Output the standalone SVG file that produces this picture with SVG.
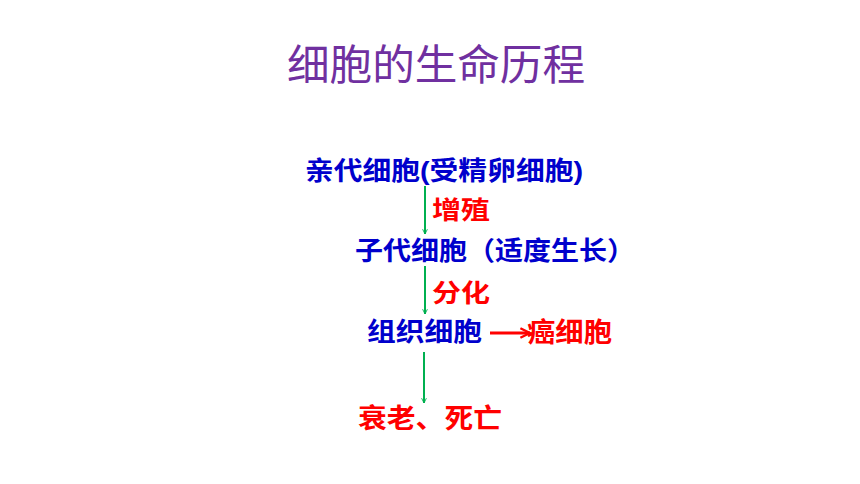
<svg xmlns="http://www.w3.org/2000/svg" width="860" height="484" viewBox="0 0 860 484">
<style>
text{font-family:"Liberation Sans","Noto Sans CJK SC",sans-serif;font-weight:bold}
.b{fill:#0000CC;font-size:26px}
.r{fill:#FF0000;font-size:25px}
.g{stroke:#00B050;stroke-width:2;fill:none}
</style>
<defs>
<marker id="ga" viewBox="0 0 10 10" refX="9" refY="5" markerWidth="6" markerHeight="6" orient="auto" markerUnits="userSpaceOnUse"><path d="M1,1 L9,5 L1,9" fill="none" stroke="#00B050" stroke-width="1.5"/></marker>
<marker id="ra" viewBox="0 0 10 10" refX="9" refY="5" markerWidth="12" markerHeight="12" orient="auto" markerUnits="userSpaceOnUse"><path d="M1,1 L9,5 L1,9" fill="none" stroke="#FF0000" stroke-width="2"/></marker>
</defs>
<text x="287" y="80" textLength="298" lengthAdjust="spacingAndGlyphs" style="font-size:42px;font-weight:normal;fill:#7030A0">细胞的生命历程</text>
<g id="connectors">
<line class="g" x1="425" y1="186" x2="425" y2="234" marker-end="url(#ga)"/>
<line class="g" x1="425" y1="266" x2="425" y2="314" marker-end="url(#ga)"/>
<line class="g" x1="424" y1="352" x2="424" y2="403" marker-end="url(#ga)"/>
<line x1="490" y1="333" x2="530" y2="333" stroke="#FF0000" stroke-width="3" marker-end="url(#ra)"/>
<text class="r" x="432" y="219" textLength="58" lengthAdjust="spacingAndGlyphs">增殖</text>
<text class="r" x="432" y="302" textLength="58" lengthAdjust="spacingAndGlyphs">分化</text>
</g>
<g id="n1"><text class="b" x="305" y="180" textLength="278" lengthAdjust="spacingAndGlyphs">亲代细胞(受精卵细胞)</text></g>
<g id="n2"><text class="b" x="355" y="260" textLength="280" lengthAdjust="spacingAndGlyphs">子代细胞（适度生长）</text></g>
<g id="n3"><text class="b" x="367" y="341" textLength="115" lengthAdjust="spacingAndGlyphs">组织细胞</text></g>
<g id="n4"><text class="r" x="527" y="342" textLength="85" lengthAdjust="spacingAndGlyphs" style="font-size:27px">癌细胞</text></g>
<g id="n5"><text class="r" x="358" y="428" textLength="144" lengthAdjust="spacingAndGlyphs" style="font-size:27px">衰老、死亡</text></g>
</svg>
